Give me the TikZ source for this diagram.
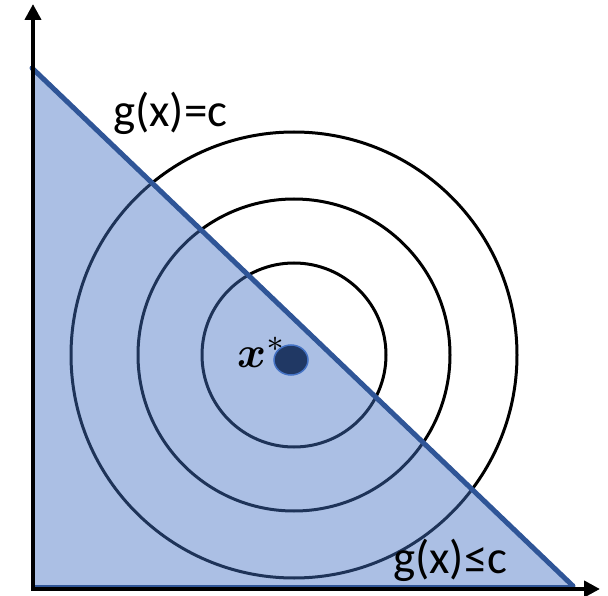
\documentclass[tikz,border=0pt]{standalone}
\usepackage{bm}
\usepackage{fontspec}
\setmainfont{Carlito}
\usetikzlibrary{arrows.meta,shapes.geometric}
\definecolor{fillblue}{HTML}{4472C4}
\definecolor{edgeblue}{HTML}{2F5597}
\definecolor{dotnavy}{HTML}{203864}
\tikzset{
  contour/.style={draw=black, line width=3pt},
  region/.style={fill=fillblue, fill opacity=0.45, draw=none},
  boundary/.style={draw=edgeblue, line width=5pt},
  axisline/.style={draw=black, line width=4pt, -{Triangle[width=16pt,length=16pt]}},
  lbl/.style={inner sep=0pt, anchor=base west, font=\fontsize{47}{47}\selectfont}
}
\begin{document}
\begin{tikzpicture}[x=1pt,y=-1pt]
\useasboundingbox (0,0) rectangle (608,596);
\coordinate (c) at (294,355);
\coordinate (top) at (32,68);
\coordinate (bl) at (32,586);
\coordinate (br) at (573,586);
\coordinate (o) at (33,589);
\coordinate (ytip) at (33,4);
\coordinate (xtip) at (600,589);
% level curves
\draw[contour] (c) circle[radius=92];
\draw[contour] (c) circle[radius=156];
\draw[contour] (c) circle[radius=223];
% feasible region
\path[region] (top) -- (bl) -- (br) -- cycle;
\draw[draw=edgeblue, line width=3pt] (bl) -- (br);
\draw[boundary, line cap=round] (top) -- (br);
% axes
\draw[axisline] (o) -- (ytip);
\draw[axisline] ([xshift=-2pt]o) -- (xtip);
% optimum
\node[draw=fillblue, fill=dotnavy, line width=1.5pt, ellipse, minimum width=34pt, minimum height=30pt, inner sep=0pt] (xs) at (291,360) {};
\node[inner sep=0pt, anchor=base west] (xl) at (237,367) {\scalebox{4.4}{$\bm{x}^{*}$}};
% labels
\node[lbl] (geq) at (113,127) {g(x)=c};
\node[lbl] (gle) at (393,573) {g(x)≤c};
\end{tikzpicture}
\end{document}
